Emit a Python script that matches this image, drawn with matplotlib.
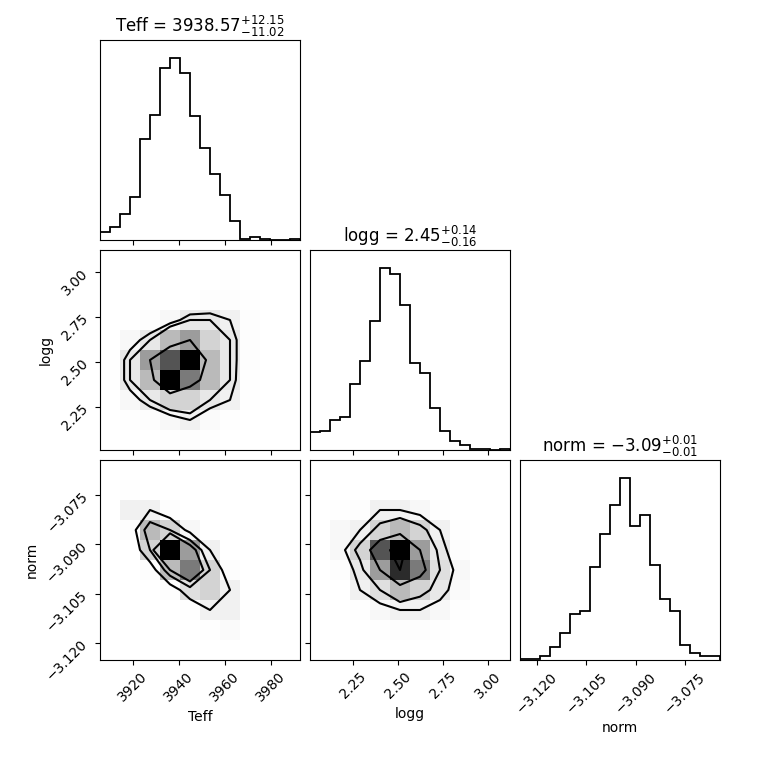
import numpy as np
import matplotlib.pyplot as plt
from matplotlib.colors import PowerNorm

# ============================================================
# DATA
# ============================================================
labels = ["Teff", "logg", "norm"]
ranges = [(3905.7, 3992.6), (2.011, 3.12), (-3.1252, -3.0643)]
ticks = [[3920, 3940, 3960, 3980],
         [2.25, 2.50, 2.75, 3.00],
         [-3.120, -3.105, -3.090, -3.075]]
tick_labels = [["3920", "3940", "3960", "3980"],
               ["2.25", "2.50", "2.75", "3.00"],
               ["\u22123.120", "\u22123.105", "\u22123.090", "\u22123.075"]]
titles = [r"Teff = $3938.57_{-11.02}^{+12.15}$",
          r"logg = $2.45_{-0.16}^{+0.14}$",
          r"norm = $-3.09_{-0.01}^{+0.01}$"]

# 1D histogram counts, 20 bins over each range
hist_teff = [25, 38, 79, 128, 302, 376, 515, 545, 502, 371,
             275, 198, 136, 56, 2, 8, 2, 0, 0, 2]
hist_logg = [53, 56, 90, 98, 198, 266, 388, 545, 527, 434,
             260, 230, 125, 56, 26, 14, 2, 4, 0, 3]
hist_norm = [3, 3, 12, 38, 80, 138, 148, 278, 379, 464,
             545, 403, 436, 284, 182, 146, 46, 20, 12, 12]

# 2D densities on a 10x10 grid, rows from top (high y) to bottom
dens_teff_logg = [
    [0, 0, 0, 0, 0, 0, 0, 0, 0, 0],
    [0, 0, 0, 0, 0, 0, 0.3, 0, 0, 0],
    [0, 0, 0, 0, 0.2, 0.5, 0.5, 0.3, 0, 0],
    [0, 0, 0.5, 1, 2, 2, 1.5, 0.5, 0, 0],
    [0, 1, 2, 4, 5, 3, 2, 0.5, 0, 0],
    [0.3, 2, 5, 7, 9, 4, 2, 0.5, 0, 0],
    [0.3, 2, 4, 9, 6, 4, 2, 0.3, 0, 0],
    [0, 1, 2, 3, 3, 2, 1.5, 0.3, 0, 0],
    [0, 0.3, 0.5, 1, 1.5, 0.8, 0.3, 0, 0, 0],
    [0, 0, 0, 0.3, 0.5, 0.3, 0, 0, 0, 0],
]
dens_teff_norm = [
    [0, 0, 0, 0, 0, 0, 0, 0, 0, 0],
    [0, 0.3, 0, 0, 0, 0, 0, 0, 0, 0],
    [0, 1.5, 1.5, 0.5, 0, 0, 0, 0, 0, 0],
    [0, 0.5, 4, 3, 1, 0, 0, 0, 0, 0],
    [0, 0, 3, 9, 5, 1.5, 0, 0, 0, 0],
    [0, 0, 0.5, 4, 6, 3, 0.5, 0, 0, 0],
    [0, 0, 0, 0.5, 2.5, 3, 1.5, 0, 0, 0],
    [0, 0, 0, 0, 0.3, 1.5, 1.5, 0.3, 0, 0],
    [0, 0, 0, 0, 0, 0.3, 0.8, 0.2, 0, 0],
    [0, 0, 0, 0, 0, 0, 0, 0, 0, 0],
]
dens_logg_norm = [
    [0, 0, 0, 0, 0, 0, 0, 0, 0, 0],
    [0, 0, 0, 0, 0, 0, 0, 0, 0, 0],
    [0, 0.3, 0.5, 1.5, 1.5, 1, 0.3, 0, 0, 0],
    [0, 1, 1.5, 3, 4, 3, 1.5, 0.3, 0, 0],
    [0, 1, 3, 7, 9, 5, 2, 0.5, 0, 0],
    [0, 0.5, 2, 5, 8, 6, 2.5, 1, 0, 0],
    [0, 0.2, 1.5, 2.5, 4, 3, 2, 0.8, 0, 0],
    [0, 0, 0.3, 1, 1.5, 1.5, 1, 0.3, 0, 0],
    [0, 0, 0, 0.3, 0.5, 0.5, 0.3, 0, 0, 0],
    [0, 0, 0, 0, 0, 0, 0, 0, 0, 0],
]

hists = [hist_teff, hist_logg, hist_norm]
dens2d = {(1, 0): dens_teff_logg, (2, 0): dens_teff_norm, (2, 1): dens_logg_norm}


def contour_levels(H, fracs=(0.118, 0.393, 0.675, 0.865)):
    flat = np.sort(H.flatten())[::-1]
    cum = np.cumsum(flat) / flat.sum()
    out = []
    for f in fracs:
        out.append(flat[np.searchsorted(cum, f)])
    return sorted(set(out))


# ============================================================
# PLOT
# ============================================================
fig = plt.figure(figsize=(7.6, 7.6), dpi=100)
W = 760.0
x0 = [100, 310, 520]
y0 = [40, 250, 460]

for i in range(3):
    for j in range(i + 1):
        ax = fig.add_axes([x0[j] / W, 1 - (y0[i] + 200) / W, 200 / W, 200 / W])
        lo, hi = ranges[j]
        if i == j:
            edges = np.linspace(lo, hi, 21)
            ax.stairs(hists[i], edges, color="k", linewidth=1.3)
            ax.set_ylim(0, 1.1 * max(hists[i]))
            ax.set_yticks([])
            ax.set_title(titles[i], fontsize=12)
        else:
            H = np.array(dens2d[(i, j)], dtype=float)[::-1]
            ylo, yhi = ranges[i]
            xe = np.linspace(lo, hi, 11)
            ye = np.linspace(ylo, yhi, 11)
            ax.pcolormesh(xe, ye, H, cmap="gray_r",
                          norm=PowerNorm(1.6, vmin=0, vmax=H.max()))
            xc = 0.5 * (xe[1:] + xe[:-1])
            yc = 0.5 * (ye[1:] + ye[:-1])
            ax.contour(xc, yc, H, levels=contour_levels(H), colors="k",
                       linewidths=1.5)
            ax.set_ylim(ylo, yhi)
            ax.set_yticks(ticks[i])
        ax.set_xlim(lo, hi)
        ax.set_xticks(ticks[j])

        if i == 2:
            ax.set_xticklabels(tick_labels[j], rotation=45, fontsize=10)
            ax.set_xlabel(labels[j], fontsize=10)
        else:
            ax.set_xticklabels([])
        if j == 0 and i > 0:
            ax.set_yticklabels(tick_labels[i], rotation=45, fontsize=10)
            ax.set_ylabel(labels[i], fontsize=10)
        elif i != j:
            ax.set_yticklabels([])

fig.savefig("out.png", dpi=100)
